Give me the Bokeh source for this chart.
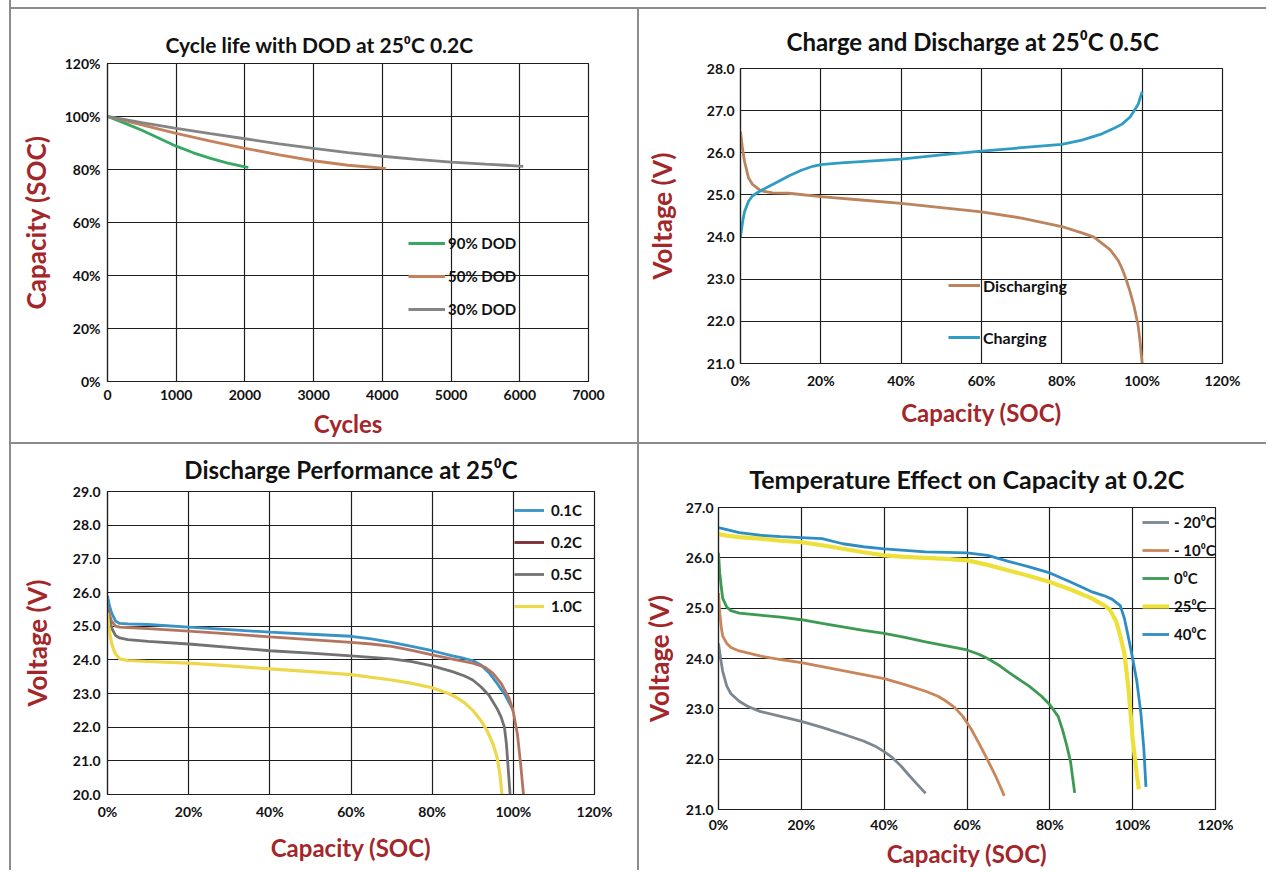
from bokeh.plotting import figure
from bokeh.models import Range1d, FixedTicker, PrintfTickFormatter, Legend, LegendItem, Div
from bokeh.layouts import row, column
from bokeh.embed import file_html
from bokeh.resources import INLINE

# ---------------- data ----------------
# Panel 1: cycle life
cycle_ticks = [0, 1000, 2000, 3000, 4000, 5000, 6000, 7000]
cap_ticks = [0, 20, 40, 60, 80, 100, 120]
cycles_90 = [0, 250, 500, 750, 1000, 1250, 1500, 1750, 2000, 2050]
cap_90 = [100, 97.5, 94.8, 91.8, 88.8, 86.3, 84.2, 82.4, 81.0, 80.8]
cycles_50 = [0, 500, 1000, 1500, 2000, 2500, 3000, 3500, 4000, 4050]
cap_50 = [100, 96.8, 93.6, 90.7, 88.0, 85.5, 83.3, 81.6, 80.5, 80.4]
cycles_30 = [0, 500, 1000, 1500, 2000, 2500, 3000, 3500, 4000, 4500, 5000, 5500, 6000, 6050]
cap_30 = [100, 97.7, 95.5, 93.5, 91.6, 89.7, 88.0, 86.4, 85.0, 83.8, 82.8, 82.0, 81.3, 81.2]

# Panel 2: charge / discharge 0.5C
soc_ticks = [0, 20, 40, 60, 80, 100, 120]
v2_ticks = [21, 22, 23, 24, 25, 26, 27, 28]
soc_dis = [0, 0.5, 1, 2, 3, 5, 8, 12, 20, 30, 40, 50, 60, 70, 80, 85, 88, 90, 92, 94, 95, 96, 97, 98, 99, 99.5, 100]
v_dis = [26.5, 26.1, 25.8, 25.4, 25.25, 25.1, 25.05, 25.04, 24.96, 24.88, 24.8, 24.7, 24.6, 24.45, 24.25, 24.1,
         24.0, 23.85, 23.7, 23.45, 23.25, 23.0, 22.7, 22.35, 21.9, 21.5, 21.0]
soc_chg = [0, 0.5, 1, 2, 3, 5, 8, 10, 12, 15, 18, 20, 25, 30, 40, 50, 60, 70, 80, 85, 90, 93, 95, 97, 98, 99, 99.5, 100]
v_chg = [24.0, 24.35, 24.6, 24.85, 24.98, 25.1, 25.25, 25.35, 25.45, 25.58, 25.68, 25.72, 25.76, 25.79, 25.85,
         25.95, 26.04, 26.12, 26.2, 26.3, 26.45, 26.58, 26.68, 26.85, 27.0, 27.15, 27.3, 27.45]

# Panel 3: discharge performance
v3_ticks = [20, 21, 22, 23, 24, 25, 26, 27, 28, 29]
soc_01 = [0, 0.5, 1, 2, 3, 5, 10, 20, 30, 40, 50, 60, 65, 70, 75, 80, 85, 88, 90, 92, 94, 96, 98, 99, 100]
v_01 = [25.9, 25.6, 25.4, 25.15, 25.08, 25.07, 25.05, 24.97, 24.9, 24.82, 24.76, 24.7, 24.62, 24.52, 24.4, 24.27,
        24.12, 24.04, 23.98, 23.85, 23.62, 23.3, 22.95, 22.72, 22.5]
soc_02 = [0, 0.5, 1, 2, 3, 5, 10, 20, 30, 40, 50, 60, 65, 70, 75, 80, 85, 90, 93, 95, 97, 99, 100, 101, 101.8, 102.5]
v_02 = [25.6, 25.35, 25.15, 25.0, 24.97, 24.96, 24.93, 24.85, 24.77, 24.68, 24.6, 24.52, 24.47, 24.4, 24.28, 24.15,
        24.02, 23.9, 23.78, 23.6, 23.3, 22.85, 22.45, 21.8, 20.9, 20.0]
soc_05 = [0, 0.5, 1, 2, 3, 5, 10, 20, 30, 40, 50, 60, 70, 75, 80, 85, 88, 90, 92, 94, 95, 96, 97, 97.8, 98.3,
          98.6, 98.9, 99.2]
v_05 = [25.5, 25.2, 24.95, 24.72, 24.65, 24.6, 24.55, 24.47, 24.37, 24.27, 24.2, 24.12, 24.03, 23.95, 23.82, 23.65,
        23.52, 23.4, 23.2, 22.95, 22.75, 22.55, 22.3, 22.0, 21.5, 21.0, 20.5, 20.0]
soc_10 = [0, 0.3, 0.7, 1, 1.5, 2, 3, 5, 10, 20, 30, 40, 50, 60, 70, 75, 80, 84, 86, 88, 90, 92, 93.5, 95, 96,
          96.7, 97.2]
v_10 = [25.4, 25.0, 24.7, 24.5, 24.3, 24.17, 24.03, 23.98, 23.95, 23.9, 23.82, 23.73, 23.65, 23.56, 23.4, 23.3,
        23.17, 23.0, 22.88, 22.72, 22.5, 22.2, 21.9, 21.5, 21.1, 20.6, 20.0]

# Panel 4: temperature effect
v4_ticks = [21, 22, 23, 24, 25, 26, 27]
soc_m20 = [0, 0.5, 1, 2, 3, 5, 7, 10, 15, 20, 25, 30, 35, 38, 40, 42, 44, 46, 48, 50]
v_m20 = [24.3, 24.0, 23.75, 23.45, 23.3, 23.15, 23.05, 22.95, 22.85, 22.75, 22.63, 22.5, 22.36, 22.25, 22.15,
         22.03, 21.87, 21.68, 21.5, 21.32]
soc_m10 = [0, 0.3, 0.7, 1, 2, 3, 5, 10, 15, 20, 25, 30, 35, 40, 45, 50, 53, 55, 57, 59, 61, 63, 65, 67, 69]
v_m10 = [25.3, 24.9, 24.6, 24.45, 24.3, 24.22, 24.15, 24.05, 23.98, 23.92, 23.84, 23.76, 23.68, 23.6, 23.48,
         23.35, 23.25, 23.15, 23.03, 22.85, 22.6, 22.3, 21.98, 21.65, 21.27]
soc_0 = [0, 0.3, 0.7, 1, 2, 3, 5, 10, 15, 20, 25, 30, 35, 40, 45, 50, 55, 60, 63, 65, 68, 70, 73, 75, 78, 80, 82,
         83, 84, 85, 86]
v_0 = [26.1, 25.7, 25.4, 25.2, 25.02, 24.95, 24.9, 24.86, 24.82, 24.77, 24.7, 24.63, 24.56, 24.5, 24.42, 24.33,
       24.25, 24.17, 24.08, 24.0, 23.85, 23.73, 23.56, 23.45, 23.25, 23.08, 22.85, 22.6, 22.3, 21.95, 21.33]
soc_25 = [0, 2, 5, 10, 15, 20, 25, 30, 35, 40, 45, 50, 55, 60, 65, 70, 75, 80, 85, 90, 93, 94.5, 96, 97, 98, 99,
          100, 101, 101.5]
v_25 = [26.47, 26.44, 26.41, 26.38, 26.34, 26.31, 26.25, 26.18, 26.11, 26.05, 26.02, 26.0, 25.98, 25.95, 25.86,
        25.75, 25.64, 25.52, 25.37, 25.2, 25.06, 24.97, 24.74, 24.45, 24.1, 23.4, 22.4, 21.7, 21.4]
soc_40 = [0, 2, 5, 10, 15, 20, 25, 30, 35, 40, 45, 50, 55, 60, 65, 70, 75, 80, 85, 90, 93, 95, 97, 98, 99, 100,
          101, 102, 102.7, 103.2]
v_40 = [26.6, 26.56, 26.5, 26.45, 26.42, 26.4, 26.38, 26.28, 26.22, 26.18, 26.15, 26.12, 26.11, 26.1, 26.05,
        25.93, 25.82, 25.7, 25.52, 25.33, 25.25, 25.18, 25.05, 24.8, 24.41, 24.0, 23.55, 22.9, 22.2, 21.45]

# ---------------- styling ----------------
FONT = "Lato"
RED = "#a3262a"
GRID = "#1e1e1e"
SEP = "#8c8c8c"
LW = 2.8


def make_fig(w, h, lb, rb, tb, bb, xr, yr, xticks, yticks, xfmt, yfmt, xlabel, ylabel,
             xlab_std, ylab_std, xtick_std, ytick_std, title, talign, toffset, tsize, tstand):
    p = figure(width=w, height=h, output_backend="svg", toolbar_location=None,
               x_range=Range1d(*xr), y_range=Range1d(*yr), title=title,
               min_border_left=lb, min_border_right=rb, min_border_top=tb, min_border_bottom=bb)
    try:
        p.frame_align = False
    except Exception:
        pass
    p.title.text_font = FONT
    p.title.text_font_size = tsize
    p.title.text_font_style = "bold"
    p.title.text_color = "#111111"
    p.title.align = talign
    p.title.offset = toffset
    p.title.standoff = tstand
    p.xaxis.ticker = FixedTicker(ticks=xticks)
    p.yaxis.ticker = FixedTicker(ticks=yticks)
    p.xgrid.ticker = FixedTicker(ticks=xticks)
    p.ygrid.ticker = FixedTicker(ticks=yticks)
    p.xaxis.formatter = PrintfTickFormatter(format=xfmt)
    p.yaxis.formatter = PrintfTickFormatter(format=yfmt)
    for ax in (p.xaxis, p.yaxis):
        ax.axis_line_color = GRID
        ax.axis_line_width = 1.2
        ax.major_tick_in = 0
        ax.major_tick_out = 0
        ax.minor_tick_in = 0
        ax.minor_tick_out = 0
        ax.major_label_text_font = FONT
        ax.major_label_text_font_size = "14px"
        ax.major_label_text_font_style = "bold"
        ax.major_label_text_color = "#111111"
        ax.axis_label_text_font = FONT
        ax.axis_label_text_font_style = "bold"
        ax.axis_label_text_color = RED
    p.xaxis.axis_label_text_font_size = "24px"
    p.yaxis.axis_label_text_font_size = "26px"
    p.xaxis.axis_label = xlabel
    p.yaxis.axis_label = ylabel
    p.xaxis.axis_label_standoff = xlab_std
    p.yaxis.axis_label_standoff = ylab_std
    p.xaxis.major_label_standoff = xtick_std
    p.yaxis.major_label_standoff = ytick_std
    for g in (p.xgrid, p.ygrid):
        g.grid_line_color = GRID
        g.grid_line_width = 1.2
    p.outline_line_color = GRID
    p.outline_line_width = 1.2
    p.background_fill_color = "white"
    p.border_fill_color = "white"
    return p


def add_legend(p, items, loc, glyph_w, standoff, spacing, size="15px"):
    lg = Legend(items=[LegendItem(label=lab, renderers=[r]) for lab, r in items],
                location=loc, orientation="vertical", glyph_width=glyph_w, glyph_height=20,
                label_height=20, label_standoff=standoff, spacing=spacing, padding=0, margin=0,
                border_line_alpha=0, background_fill_alpha=0,
                label_text_font=FONT, label_text_font_size=size, label_text_font_style="bold",
                label_text_color="#111111")
    p.add_layout(lg)


# ---- Panel 1 ----
p1 = make_fig(626, 433, 96, 49, 54, 61, (0, 7000), (0, 120), cycle_ticks, cap_ticks, "%d", "%d%%",
              "Cycles", "Capacity (SOC)", 6, 10, 8, 7,
              "Cycle life with DOD at 25\u2070C 0.2C", "left", 58, "21px", 14)
r90 = p1.line(cycles_90, cap_90, line_color="#35a862", line_width=LW)
r50 = p1.line(cycles_50, cap_50, line_color="#c4825c", line_width=LW)
r30 = p1.line(cycles_30, cap_30, line_color="#858585", line_width=LW)
add_legend(p1, [("90% DOD", r90), ("50% DOD", r50), ("30% DOD", r30)], (301, 62), 37, 3, 13)

# ---- Panel 2 ----
p2 = make_fig(627, 433, 101, 44, 59, 79, (0, 120), (21, 28), soc_ticks, v2_ticks, "%d%%", "%.1f",
              "Capacity (SOC)", "Voltage (V)", 6, 26, 8, 6,
              "Charge and Discharge at 25\u2070C 0.5C", "left", 46, "24px", 26)
rd = p2.line(soc_dis, v_dis, line_color="#bb845e", line_width=LW)
rc = p2.line(soc_chg, v_chg, line_color="#2f9cc4", line_width=LW)
add_legend(p2, [("Discharging", rd), ("Charging", rc)], (208, 16), 32, 3, 32, "16px")

# ---- Panel 3 ----
p3 = make_fig(626, 426, 96, 43, 47, 76, (0, 120), (20, 29), soc_ticks, v3_ticks, "%d%%", "%.1f",
              "Capacity (SOC)", "Voltage (V)", 10, 17, 8, 7,
              "Discharge Performance at 25\u2070C", "center", 0, "24px", 16)
r01 = p3.line(soc_01, v_01, line_color="#3a93c6", line_width=LW)
r02 = p3.line(soc_02, v_02, line_color="#b37460", line_width=LW)
r05 = p3.line(soc_05, v_05, line_color="#727272", line_width=LW)
r10 = p3.line(soc_10, v_10, line_color="#ecd84a", line_width=3.2)
leg02 = p3.line([float("nan"), float("nan")], [float("nan"), float("nan")], line_color="#7a2a30", line_width=LW)
add_legend(p3, [("0.1C", r01), ("0.2C", leg02), ("0.5C", r05), ("1.0C", r10)], (407, 178), 30, 7, 12)

# ---- Panel 4 ----
p4 = make_fig(627, 426, 77, 51, 63, 61, (0, 120), (21, 27), soc_ticks, v4_ticks, "%d%%", "%.1f",
              "Capacity (SOC)", "Voltage (V)", 3, 8, 6, 5,
              "Temperature Effect on Capacity at 0.2C", "center", 0, "25px", 27)
rm20 = p4.line(soc_m20, v_m20, line_color="#7d8790", line_width=LW)
rm10 = p4.line(soc_m10, v_m10, line_color="#c9865a", line_width=LW)
r0 = p4.line(soc_0, v_0, line_color="#3d9a52", line_width=LW)
r25 = p4.line(soc_25, v_25, line_color="#eee03a", line_width=4.2)
r40 = p4.line(soc_40, v_40, line_color="#2e8dc2", line_width=LW)
add_legend(p4, [("- 20\u2070C", rm20), ("- 10\u2070C", rm10), ("0\u2070C", r0), ("25\u2070C", r25),
                ("40\u2070C", r40)], (424, 165), 27, 5, 8)


def box(w, h, color):
    return Div(text="", width=w, height=h, margin=0, styles={"background-color": color})


top = row(p1, box(2, 433, SEP), p2, spacing=0)
bottom = row(p3, box(2, 426, SEP), p4, spacing=0)
col = column(box(1255, 7, "white"), box(1255, 2, SEP), top, box(1255, 2, SEP), bottom, spacing=0)
page = row(box(9, 870, "white"), box(2, 870, SEP), col, spacing=0)

open("out.html", "w").write(file_html(page, INLINE, title="Battery charts"))
